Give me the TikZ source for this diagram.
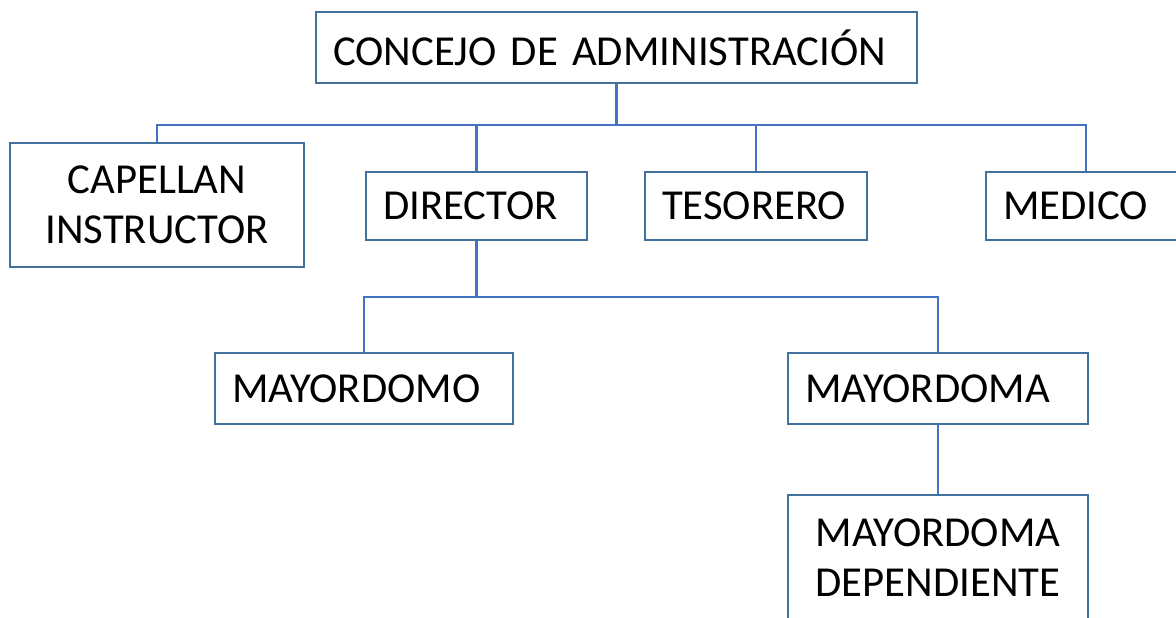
\documentclass[tikz,border=0pt]{standalone}
\usepackage{fontspec}
\setmainfont{Carlito}
\usetikzlibrary{calc}
\definecolor{boxline}{HTML}{41719C}
\definecolor{linkline}{HTML}{4472C4}
\begin{document}
\begin{tikzpicture}[
  box/.style={draw=boxline, line width=1.4pt, fill=white, inner xsep=0.34cm, inner ysep=0pt,
    font=\fontsize{24.3}{28.5}\selectfont, align=left},
  cbox/.style={box, align=center},
  link/.style={draw=linkline, line width=1.3pt}
]
\useasboundingbox (0,0) rectangle (23.52,-12.36);

\node[box, minimum width=12.02cm, minimum height=1.42cm, text width=11.34cm] (concejo) at (12.33,-0.95) {CONCEJO DE ADMINISTRACIÓN};

\node[cbox, minimum width=5.88cm, minimum height=2.48cm] (capellan) at (3.14,-4.10) {CAPELLAN\\INSTRUCTOR};
\node[box, minimum width=4.42cm, minimum height=1.36cm, text width=3.74cm] (director) at (9.53,-4.12) {DIRECTOR};
\node[box, minimum width=4.44cm, minimum height=1.36cm, text width=3.76cm] (tesorero) at (15.12,-4.12) {TESORERO};
\node[box, minimum width=4.0cm, minimum height=1.36cm, text width=3.32cm] (medico) at (21.72,-4.12) {MEDICO};

\node[box, minimum width=5.96cm, minimum height=1.42cm, text width=5.28cm] (mayordomo) at (7.28,-7.77) {MAYORDOMO};
\node[box, minimum width=6.0cm, minimum height=1.42cm, text width=5.32cm] (mayordoma) at (18.76,-7.77) {MAYORDOMA};

\node[cbox, minimum width=6.0cm, minimum height=2.52cm] (dependiente) at (18.76,-11.16) {MAYORDOMA\\DEPENDIENTE};

% first level
\coordinate (bus1) at (0,-2.5);
\draw[link] (concejo.south) -- (concejo.south |- bus1);
\draw[link] (capellan.north) -- (capellan.north |- bus1) -- (medico.north |- bus1) -- (medico.north);
\draw[link] (director.north |- bus1) -- (director.north);
\draw[link] (tesorero.north |- bus1) -- (tesorero.north);

% second level
\coordinate (bus2) at (0,-5.94);
\draw[link] (director.south) -- (director.south |- bus2);
\draw[link] (mayordomo.north) -- (mayordomo.north |- bus2) -- (mayordoma.north |- bus2) -- (mayordoma.north);
\draw[link] (mayordoma.south) -- (dependiente.north);

\end{tikzpicture}
\end{document}
